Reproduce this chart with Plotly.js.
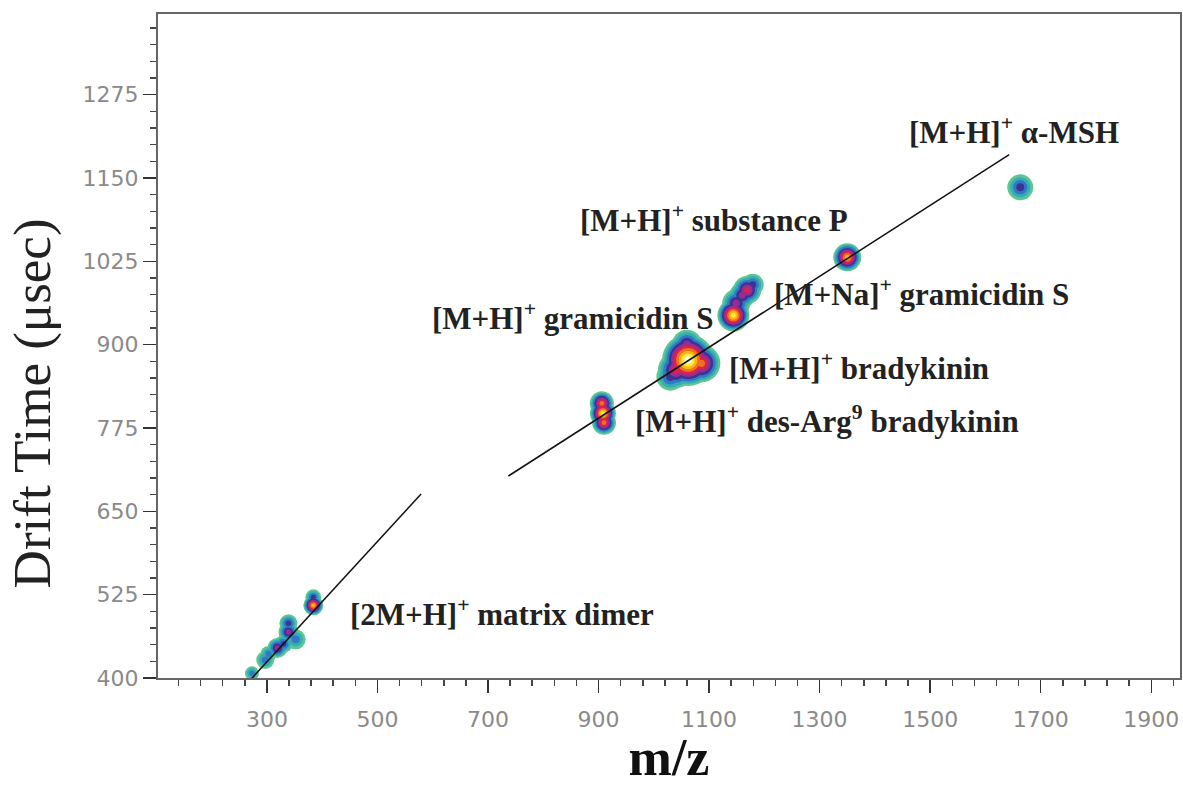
<!DOCTYPE html>
<html>
<head>
<meta charset="utf-8">
<script src="https://cdn.plot.ly/plotly-3.0.1.min.js"></script>
<style>html,body{margin:0;padding:0;background:#fff;}#chart{width:1183px;height:786px;}</style>
</head>
<body>
<div id="chart"></div>
<script>
// ---------------- DATA ----------------
// Ion signal spots (m/z, drift time in µsec, peak intensity level 0-9)
const spotMz    = [1663, 1350, 1144, 1149, 1169, 1160, 1179, 1062, 1040, 1086, 1060, 1030, 908, 906, 910, 384, 384, 339, 339, 352, 319, 330, 297, 303, 273];
const spotDrift = [1136, 1031, 944, 962, 982, 974, 990, 877, 862, 872, 900, 852, 797, 812, 783, 509, 521, 469, 482, 458, 445, 451, 427, 436, 407];
const spotLevel = [3, 7, 8, 4, 5, 4, 3, 9, 5, 6, 4, 3, 8, 6, 6, 7, 3, 4, 3, 2, 4, 3, 2, 2, 2];

// Calibration (fit) lines
const fit1Mz = [270, 579];
const fit1Drift = [397, 676];
const fit2Mz = [737, 1643];
const fit2Drift = [703, 1185];

// Peak labels
const labelText = [
  "[M+H]<sup>+</sup> α-MSH",
  "[M+H]<sup>+</sup> substance P",
  "[M+Na]<sup>+</sup> gramicidin S",
  "[M+H]<sup>+</sup> gramicidin S",
  "[M+H]<sup>+</sup> bradykinin",
  "[M+H]<sup>+</sup> des-Arg<sup>9</sup> bradykinin",
  "[2M+H]<sup>+</sup> matrix dimer"
];

const xTickVals = [300, 500, 700, 900, 1100, 1300, 1500, 1700, 1900];
const yTickVals = [400, 525, 650, 775, 900, 1025, 1150, 1275];

// ---------------- STYLE ----------------
const spotDiam = [26, 28, 32, 28, 28, 26, 22, 52, 36, 38, 30, 28, 26, 24, 24, 20, 16, 20, 18, 20, 20, 18, 18, 16, 14];
const ramp = ['#5cc792', '#36adb4', '#3079c6', '#3a3592', '#9a2b93', '#d8234d', '#f0701e', '#fbb517', '#ffe838', '#fffde8'];
const labelPos = [
  {x: 1458, y: 1222, anchor: 'left'},
  {x: 863, y: 1090, anchor: 'left'},
  {x: 1214, y: 978, anchor: 'left'},
  {x: 1111, y: 942, anchor: 'right'},
  {x: 1133, y: 868, anchor: 'left'},
  {x: 963, y: 788, anchor: 'left'},
  {x: 447, y: 498, anchor: 'left'}
];

const traces = [];
for (let k = 0; k < ramp.length; k++) {
  const xs = [], ys = [], ss = [];
  for (let i = 0; i < spotMz.length; i++) {
    if (spotLevel[i] >= k) {
      xs.push(spotMz[i]); ys.push(spotDrift[i]);
      ss.push(spotDiam[i] * Math.pow(1 - k / (spotLevel[i] + 1), 0.85));
    }
  }
  traces.push({type: 'scatter', mode: 'markers', x: xs, y: ys, hoverinfo: 'skip', showlegend: false,
    marker: {size: ss, color: ramp[k], opacity: 1, line: {width: 0}}});
}
traces.push({type: 'scatter', mode: 'lines', x: fit1Mz, y: fit1Drift, showlegend: false,
  line: {color: '#111', width: 1.5}});
traces.push({type: 'scatter', mode: 'lines', x: fit2Mz, y: fit2Drift, showlegend: false,
  line: {color: '#111', width: 1.5}});

const annots = labelText.map((t, i) => ({
  x: labelPos[i].x, y: labelPos[i].y, xref: 'x', yref: 'y', text: t, showarrow: false,
  xanchor: labelPos[i].anchor, yanchor: 'middle',
  font: {family: 'Liberation Serif, serif', size: 31, color: '#222', weight: 'bold'}
}));
annots.push({
  xref: 'paper', yref: 'paper', x: -0.123, y: 0.414, textangle: -90, showarrow: false,
  text: 'Drift Time (μsec)', xanchor: 'center', yanchor: 'middle',
  font: {family: 'Liberation Serif, serif', size: 53, color: '#222'}
});

const axisCommon = {
  showline: true, mirror: true, linecolor: '#666', linewidth: 2, showgrid: false, zeroline: false,
  ticks: 'outside', tickcolor: '#333', tickwidth: 1.5, ticklen: 13,
  tickfont: {family: 'DejaVu Sans, sans-serif', size: 22, color: '#8a8a8a'}
};

const layout = {
  width: 1183, height: 786,
  margin: {l: 158, r: 3, t: 14, b: 108},
  paper_bgcolor: '#fff', plot_bgcolor: '#fff',
  xaxis: Object.assign({}, axisCommon, {
    range: [103, 1952], tickmode: 'array', tickvals: xTickVals, ticktext: xTickVals.map(String),
    ticklabelstandoff: 8,
    minor: {dtick: 40, tick0: 300, ticks: 'outside', ticklen: 6, tickcolor: '#444', tickwidth: 1.5},
    title: {text: 'm/z', standoff: 27, font: {family: 'Liberation Serif, serif', size: 52, color: '#111', weight: 'bold'}}
  }),
  yaxis: Object.assign({}, axisCommon, {
    range: [400, 1396], tickmode: 'array', tickvals: yTickVals, ticktext: yTickVals.map(String),
    ticklabelstandoff: 0,
    minor: {dtick: 25, tick0: 400, ticks: 'outside', ticklen: 6, tickcolor: '#444', tickwidth: 1.5}
  }),
  annotations: annots
};

Plotly.newPlot('chart', traces, layout, {displayModeBar: false, staticPlot: true});
</script>
</body>
</html>
